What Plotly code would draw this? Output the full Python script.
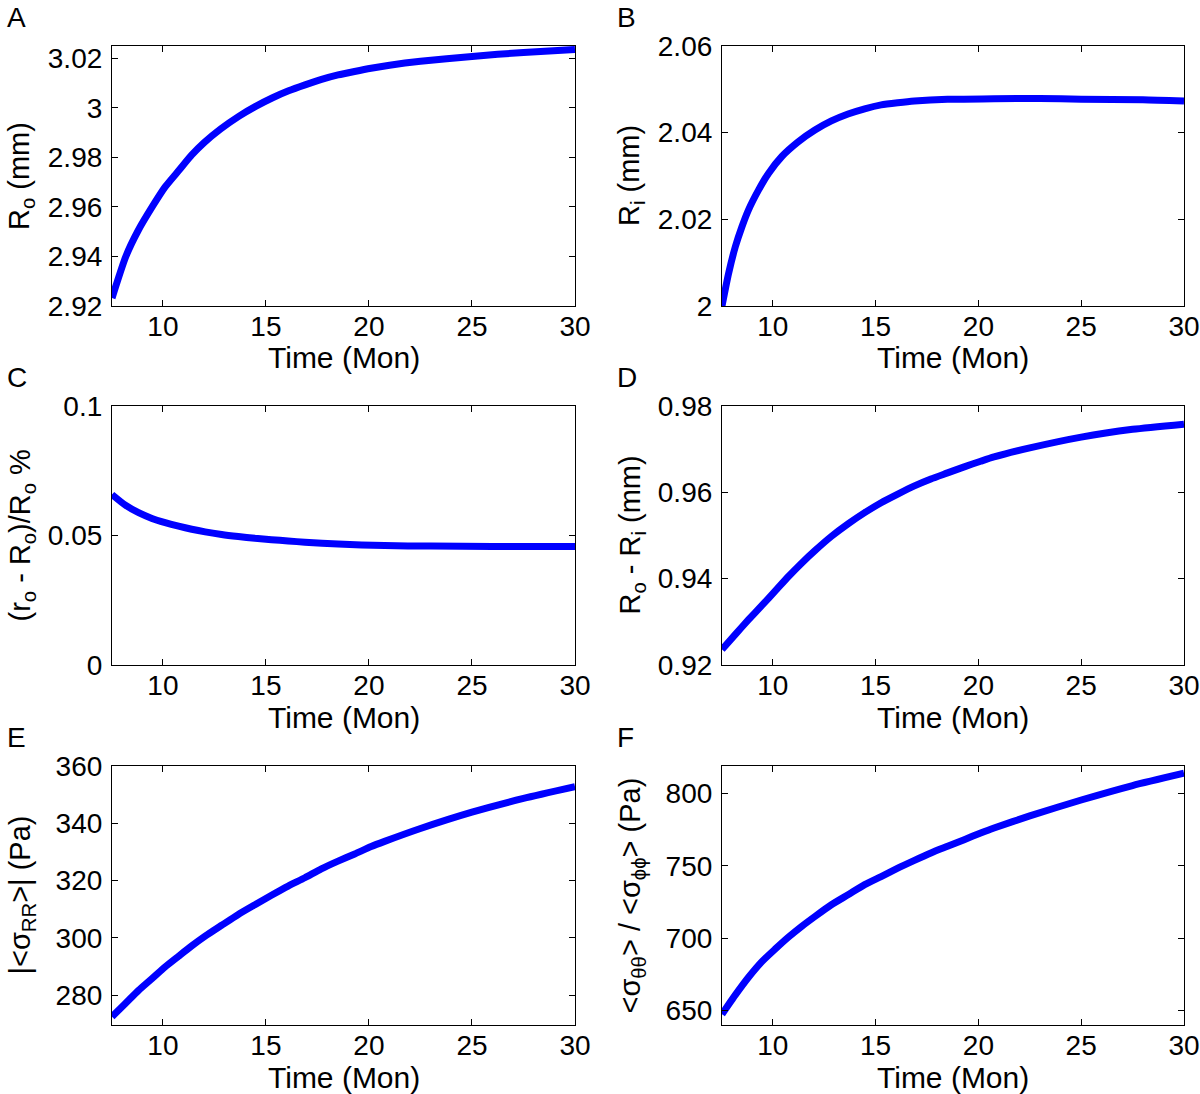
import plotly.graph_objects as go

W, H = 1200, 1094

# ---------------- data ----------------
t_A = [7.53, 8.2, 8.8, 9.5, 10.1, 10.8, 11.4, 12.0, 12.8, 13.7, 14.5, 15.3, 16.1,
       16.9, 17.7, 18.5, 19.3, 20.1, 21.0, 22.5, 25.0, 27.5, 30.0]
R_o = [2.9232, 2.9400, 2.9505, 2.9603, 2.9680, 2.9750, 2.9810, 2.9860, 2.9915,
       2.9967, 3.0006, 3.0040, 3.0069, 3.0093, 3.0115, 3.0133, 3.0147, 3.0160,
       3.0172, 3.0188, 3.0208, 3.0224, 3.0236]

t_B = [7.53, 7.85, 8.18, 8.5, 8.82, 9.31, 9.79, 10.44, 11.24, 12.05, 12.85, 13.66,
       14.47, 15.27, 16.08, 16.89, 18.5, 20.76, 23.0, 25.0, 28.0, 30.0]
R_i = [2.0000, 2.0075, 2.0137, 2.0183, 2.0222, 2.0268, 2.0306, 2.0345, 2.0379,
       2.0406, 2.0427, 2.0443, 2.0455, 2.0464, 2.0469, 2.0473, 2.0477, 2.0478,
       2.0479, 2.0477, 2.0476, 2.0473]

t_C = [7.53, 8.18, 8.82, 9.47, 10.11, 10.76, 11.4, 12.05, 12.85, 13.66, 14.47,
       15.27, 16.08, 16.89, 18.5, 20.76, 23.0, 26.0, 30.0]
strain = [0.0658, 0.0617, 0.0588, 0.0566, 0.0550, 0.0536, 0.0524, 0.0514, 0.0504,
          0.0496, 0.0489, 0.0484, 0.0479, 0.0474, 0.0467, 0.0461, 0.0459, 0.0458,
          0.0458]

t_D = [7.53, 8.18, 8.82, 9.47, 10.11, 10.76, 11.4, 12.05, 12.85, 13.66, 14.47,
       15.27, 16.08, 16.89, 17.69, 18.5, 19.31, 20.11, 20.76, 22.5, 25.0, 27.5, 30.0]
thick = [0.9236, 0.9271, 0.9305, 0.9338, 0.9371, 0.9405, 0.9436, 0.9465, 0.9498,
         0.9527, 0.9553, 0.9576, 0.9596, 0.9615, 0.9631, 0.9645, 0.9659, 0.9672,
         0.9682, 0.9703, 0.9728, 0.9746, 0.9758]

t_E = [7.53, 8.18, 8.82, 9.47, 10.11, 10.76, 11.4, 12.05, 12.85, 13.66, 14.47,
       15.27, 16.08, 16.89, 17.69, 18.5, 19.31, 20.11, 20.76, 22.5, 25.0, 27.5, 30.0]
sigma_RR = [272.5, 277.1, 281.7, 285.8, 289.9, 293.6, 297.2, 300.6, 304.4, 308.2,
            311.6, 314.9, 318.1, 321.0, 324.1, 326.8, 329.3, 331.9, 333.7, 338.2,
            343.9, 348.7, 352.8]

t_F = [7.53, 8.18, 8.82, 9.47, 10.11, 10.76, 11.4, 12.05, 12.85, 13.66, 14.47,
       15.27, 16.08, 16.89, 17.69, 18.5, 19.31, 20.11, 20.76, 22.5, 25.0, 27.5, 30.0]
sigma_tt = [647.5, 660.8, 673.0, 683.8, 692.4, 700.7, 708.1, 715.0, 723.1, 730.0,
            737.0, 742.6, 748.4, 753.8, 758.9, 763.5, 768.1, 772.7, 776.2, 784.5,
            795.5, 805.5, 814.0]

x_ticks = [10, 15, 20, 25, 30]
x_ticktext = ["10", "15", "20", "25", "30"]

yt_A = [2.92, 2.94, 2.96, 2.98, 3.0, 3.02]
yl_A = ["2.92", "2.94", "2.96", "2.98", "3", "3.02"]
yt_B = [2.0, 2.02, 2.04, 2.06]
yl_B = ["2", "2.02", "2.04", "2.06"]
yt_C = [0, 0.05, 0.1]
yl_C = ["0", "0.05", "0.1"]
yt_D = [0.92, 0.94, 0.96, 0.98]
yl_D = ["0.92", "0.94", "0.96", "0.98"]
yt_E = [280, 300, 320, 340, 360]
yl_E = ["280", "300", "320", "340", "360"]
yt_F = [650, 700, 750, 800]
yl_F = ["650", "700", "750", "800"]

letters = ["A", "B", "C", "D", "E", "F"]
y_titles = [
    "R<sub>o</sub> (mm)",
    "R<sub>i</sub> (mm)",
    "(r<sub>o</sub> - R<sub>o</sub>)/R<sub>o</sub> %",
    "R<sub>o</sub> - R<sub>i</sub> (mm)",
    "|&lt;σ<sub>RR</sub>&gt;| (Pa)",
    "&lt;σ<sub>θθ</sub>&gt; / &lt;σ<sub>ϕϕ</sub>&gt; (Pa)",
]
x_title = "Time (Mon)"

# ---------------- layout ----------------
FONT = "Arial, 'Liberation Sans', sans-serif"
FS = 28
FS_XT = 30
FS_YT = 29

# plot boxes in page pixels
col_px = [(112, 575), (722, 1184)]
row_px = [(46, 306), (406, 665), (766, 1025)]


def px(x):
    return x / W


def py(y):
    return 1 - y / H


panels = [
    (t_A, R_o, [2.92, 3.025], yt_A, yl_A),
    (t_B, R_i, [2.0, 2.06], yt_B, yl_B),
    (t_C, strain, [0.0, 0.1], yt_C, yl_C),
    (t_D, thick, [0.92, 0.98], yt_D, yl_D),
    (t_E, sigma_RR, [269.6, 360], yt_E, yl_E),
    (t_F, sigma_tt, [640, 819], yt_F, yl_F),
]

fig = go.Figure()
layout = dict(
    width=W, height=H,
    margin=dict(l=0, r=0, t=0, b=0, autoexpand=False),
    paper_bgcolor="white", plot_bgcolor="white",
    showlegend=False,
    font=dict(family=FONT, size=FS, color="black"),
)
annotations = []

for i, (tx, ty, yr, yt, yl) in enumerate(panels):
    r, c = divmod(i, 2)
    x0, x1 = col_px[c]
    y0, y1 = row_px[r]
    n = "" if i == 0 else str(i + 1)
    fig.add_trace(go.Scatter(
        x=tx, y=ty, mode="lines",
        line=dict(color="rgb(0,0,255)", width=7, shape="spline", smoothing=0.6),
        xaxis="x" + n, yaxis="y" + n, hoverinfo="skip",
    ))
    common = dict(
        showline=True, linecolor="black", linewidth=1.2, mirror="ticks",
        ticks="inside", ticklen=6, tickwidth=1, tickcolor="black",
        showgrid=False, zeroline=False, automargin=False,
        ticklabeloverflow="allow",
        tickfont=dict(family=FONT, size=FS, color="black"),
    )
    layout["xaxis" + n] = dict(
        common, domain=[px(x0), px(x1)], range=[7.53, 30],
        tickmode="array", tickvals=x_ticks, ticktext=x_ticktext,
        anchor="y" + n, ticklabelstandoff=-5,
    )
    layout["yaxis" + n] = dict(
        common, domain=[py(y1), py(y0)], range=yr,
        tickmode="array", tickvals=yt, ticktext=yl,
        anchor="x" + n, ticklabelstandoff=3,
    )
    # x title
    annotations.append(dict(
        text=x_title, xref="paper", yref="paper",
        x=px((x0 + x1) / 2), y=py(y1 + 52),
        xanchor="center", yanchor="middle", showarrow=False,
        font=dict(family=FONT, size=FS_XT, color="black"),
    ))
    # y title
    annotations.append(dict(
        text=y_titles[i], xref="paper", yref="paper",
        x=px(x0 - 91), y=py((y0 + y1) / 2),
        xanchor="center", yanchor="middle", textangle=-90, showarrow=False,
        font=dict(family=FONT, size=FS_YT, color="black"),
    ))
    # panel letter
    annotations.append(dict(
        text=letters[i], xref="paper", yref="paper",
        x=px(x0 - 107), y=py(y0 - 29),
        xanchor="left", yanchor="middle", showarrow=False,
        font=dict(family=FONT, size=FS, color="black"),
    ))

layout["annotations"] = annotations
fig.update_layout(**layout)
fig.write_html(
    "out.html",
    config={"displayModeBar": False},
    post_script="document.body.style.margin='0';document.body.style.overflow='hidden';",
)
